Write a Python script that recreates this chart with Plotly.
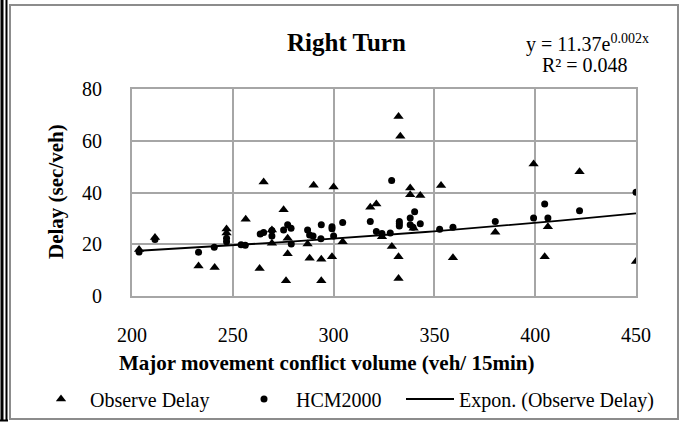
import numpy as np
import plotly.graph_objects as go

# ---- data ----
obs_x = [203.5, 211.4, 233.0, 241.0, 246.9, 246.9, 256.4, 263.3, 265.3, 269.4, 269.4,
         275.2, 276.4, 277.2, 277.2, 287.1, 288.1, 290.1, 293.9, 293.9, 299.2, 300.0,
         304.5, 318.2, 321.2, 324.0, 328.9, 332.2, 333.1, 332.2, 332.2, 338.0, 338.0,
         339.7, 343.0, 353.3, 359.2, 380.2, 399.2, 404.7, 406.3, 422.0, 450.0]
obs_y = [18.0, 22.6, 11.6, 11.0, 25.9, 24.3, 29.7, 10.6, 44.1, 25.5, 20.4,
         33.3, 5.9, 22.3, 16.3, 20.1, 14.6, 42.8, 14.2, 5.9, 15.2, 42.1,
         21.0, 34.3, 35.6, 22.9, 19.1, 69.4, 61.7, 15.2, 6.8, 41.7, 39.1,
         26.2, 38.8, 42.7, 14.8, 24.6, 51.0, 15.2, 26.8, 48.0, 13.3]

hcm_x = [203.5, 211.4, 233.0, 240.8, 246.9, 246.9, 254.1, 256.2, 263.6, 265.3, 269.4,
         269.4, 275.2, 277.2, 278.9, 279.0, 287.1, 288.1, 289.8, 293.9, 293.7, 299.2,
         299.2, 300.0, 304.5, 318.2, 321.2, 324.0, 328.1, 328.8, 332.6, 332.6, 332.6,
         338.0, 338.0, 339.4, 340.2, 343.0, 352.6, 359.2, 380.2, 399.2, 404.7, 406.3,
         422.0, 450.0]
hcm_y = [17.0, 21.8, 16.9, 18.8, 22.3, 21.0, 19.8, 19.6, 24.0, 24.5, 25.3,
         23.2, 25.5, 27.5, 26.2, 20.1, 25.5, 23.6, 23.2, 27.5, 22.1, 26.8,
         26.0, 23.2, 28.4, 28.8, 24.9, 24.2, 24.3, 44.6, 28.8, 27.9, 27.1,
         30.1, 27.5, 26.6, 32.6, 27.9, 25.8, 26.6, 28.8, 30.1, 35.6, 30.1,
         32.9, 40.1]

x_ticks = [200, 250, 300, 350, 400, 450]
y_ticks = [0, 20, 40, 60, 80]

title_text = "Right Turn"
eq_text = "y = 11.37e<sup>0.002x</sup>"
r2_text = "R² = 0.048"
x_title = "Major movement conflict volume (veh/ 15min)"
y_title = "Delay (sec/veh)"
names = ["Observe Delay", "HCM2000", "Expon. (Observe Delay)"]

# exponential trendline fitted to the observed delay (as Excel does)
b, ln_a = np.polyfit(np.array(obs_x), np.log(np.array(obs_y)), 1)
trend_x = np.linspace(min(obs_x), max(obs_x), 60)
trend_y = np.exp(ln_a) * np.exp(b * trend_x)

# ---- layout geometry ----
W, H = 682, 422
L, R, T, B = 132, 636, 89, 296
FONT = "Liberation Serif"
GRID = "#a6a6a6"


def px(x):
    return (x - L) / (R - L)


def py(y):
    return (B - y) / (B - T)


fig = go.Figure()
fig.add_trace(go.Scatter(x=obs_x, y=obs_y, mode="markers", name=names[0], legend="legend",
                         marker=dict(symbol="triangle-up", size=9, color="black")))
fig.add_trace(go.Scatter(x=hcm_x, y=hcm_y, mode="markers", name=names[1], legend="legend2",
                         marker=dict(symbol="circle", size=7, color="black")))
fig.add_trace(go.Scatter(x=trend_x, y=trend_y, mode="lines", name=names[2], legend="legend3",
                         line=dict(color="black", width=1.8)))

LEG_Y = py(399)


def leg(x0, iw=30):
    return dict(orientation="h", x=px(x0), y=LEG_Y, xanchor="left", yanchor="middle",
                font=dict(size=20), bgcolor="rgba(0,0,0,0)", itemwidth=iw)


fig.update_layout(
    width=W, height=H,
    margin=dict(l=L, r=W - R, t=T, b=H - B, pad=0, autoexpand=False),
    paper_bgcolor="white", plot_bgcolor="white",
    font=dict(family=FONT, size=20, color="black"),
    showlegend=True,
    legend=leg(32, 48),
    legend2=leg(232, 54),
    legend3=leg(401, 48),
    xaxis=dict(range=[200, 450], tickvals=x_ticks, showgrid=True, gridcolor=GRID,
               gridwidth=1.6, showline=True, linecolor=GRID, linewidth=2, mirror=True,
               zeroline=False, ticks="", ticklabelstandoff=20, fixedrange=True,
               automargin=False),
    yaxis=dict(range=[0, 80], tickvals=y_ticks, showgrid=True, gridcolor=GRID,
               gridwidth=1.6, showline=True, linecolor=GRID, linewidth=2, mirror=True,
               zeroline=False, ticks="", ticklabelstandoff=24, fixedrange=True,
               automargin=False),
)

ann = [
    dict(text="<b>%s</b>" % title_text, x=px(346), y=py(42), font=dict(size=25)),
    dict(text=eq_text, x=px(587), y=py(44), font=dict(size=20)),
    dict(text=r2_text, x=px(585), y=py(65), font=dict(size=20)),
    dict(text="<b>%s</b>" % x_title, x=px(326), y=py(363), font=dict(size=21)),
    dict(text="<b>%s</b>" % y_title, x=px(56), y=py(192), font=dict(size=21), textangle=-90),
]
for a in ann:
    fig.add_annotation(xref="paper", yref="paper", showarrow=False,
                       xanchor="center", yanchor="middle", **a)

shapes = [
    dict(type="rect", x0=px(10), x1=px(678), y0=py(5), y1=py(419),
         line=dict(color="#8c8c8c", width=2)),
    dict(type="line", x0=px(2), x1=px(2), y0=py(0), y1=py(421),
         line=dict(color="black", width=3)),
    dict(type="line", x0=px(6.5), x1=px(6.5), y0=py(0), y1=py(421),
         line=dict(color="black", width=2)),
    dict(type="line", x0=px(0), x1=px(8), y0=py(420.5), y1=py(420.5),
         line=dict(color="black", width=2)),
]
for s in shapes:
    fig.add_shape(xref="paper", yref="paper", layer="above", **s)

fig.write_html("out.html", config={"displayModeBar": False},
               post_script="document.body.style.margin='0';document.body.style.overflow='hidden';")
